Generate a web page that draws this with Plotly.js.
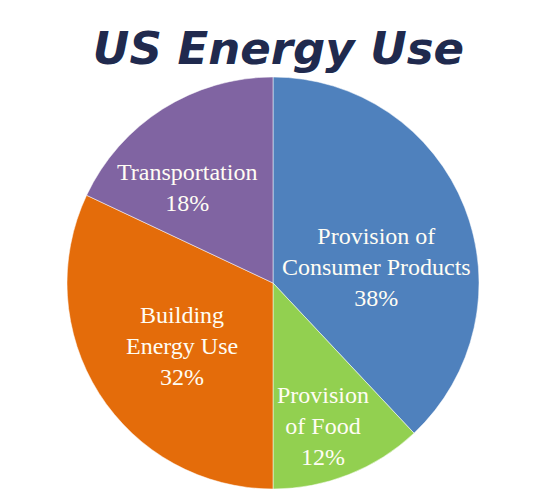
<!DOCTYPE html>
<html>
<head>
<meta charset="utf-8">
<script src="https://cdn.plot.ly/plotly-3.0.1.min.js"></script>
<style>html,body{margin:0;padding:0;background:#fff;}#chart{width:546px;height:504px;}</style>
</head>
<body>
<div id="chart"></div>
<script>
const categories = ["Provision of<br>Consumer Products", "Provision<br>of Food", "Building<br>Energy Use", "Transportation"];
const values = [38, 12, 32, 18];
const colors = ["#4F81BD", "#92D050", "#E46C0A", "#8064A2"];
// label anchor positions (paper fractions) for each slice's text
const labelX = [0.7524, 0.6214, 0.2791, 0.2913];
const labelY = [0.5388, 0.1529, 0.3471, 0.7306];

const trace = {
  type: "pie",
  labels: categories,
  values: values,
  sort: false,
  direction: "clockwise",
  rotation: 0,
  marker: {colors: colors, line: {color: "rgba(255,255,255,0.5)", width: 1}},
  textinfo: "none",
  hoverinfo: "none",
  showlegend: false
};

const annotations = categories.map((c, i) => ({
  text: c + "<br>" + values[i] + "%",
  xref: "paper", yref: "paper",
  x: labelX[i], y: labelY[i],
  xanchor: "center", yanchor: "middle",
  showarrow: false,
  align: "center",
  font: {family: "Liberation Serif, Times New Roman, serif", size: 24, color: "#FFFDF4"}
}));

const layout = {
  width: 546,
  height: 504,
  margin: {l: 67, r: 67, t: 77, b: 15},
  paper_bgcolor: "#ffffff",
  annotations: annotations,
  title: {
    text: "US Energy Use",
    font: {family: "DejaVu Sans, Arial, sans-serif", size: 45, color: "#202A4E", weight: "bold", style: "italic"},
    xref: "container", x: 0.51, xanchor: "center",
    yref: "container", y: 0.905, yanchor: "middle"
  }
};

Plotly.newPlot("chart", [trace], layout, {staticPlot: true});
</script>
</body>
</html>
